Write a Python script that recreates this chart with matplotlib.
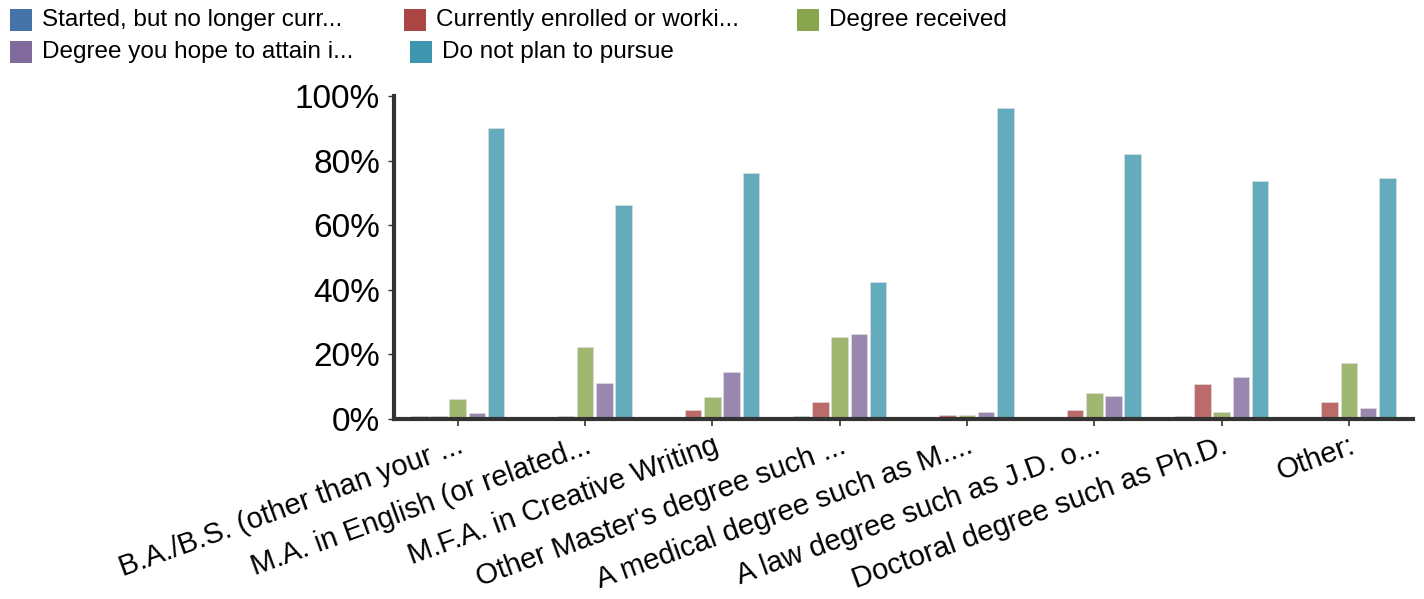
import numpy as np
import matplotlib
matplotlib.use("Agg")
import matplotlib.pyplot as plt
from matplotlib.patches import Rectangle

plt.rcParams['font.family'] = ['Liberation Sans', 'DejaVu Sans']

categories = ["B.A./B.S. (other than your ...", "M.A. in English (or related...",
              "M.F.A. in Creative Writing", "Other Master's degree such ...",
              "A medical degree such as M....", "A law degree such as J.D. o...",
              "Doctoral degree such as Ph.D.", "Other:"]
series_names = ["Started, but no longer curr...", "Currently enrolled or worki...",
                "Degree received", "Degree you hope to attain i...", "Do not plan to pursue"]
started = [1.0, 0.0, 0.0, 1.0, 0.0, 0.0, 1.0, 0.0]
enrolled = [1.0, 1.0, 2.9, 5.3, 1.3, 2.9, 10.9, 5.3]
received = [6.2, 22.3, 6.9, 25.4, 1.3, 8.0, 2.1, 17.3]
hope = [2.0, 11.1, 14.5, 26.3, 2.1, 7.1, 13.1, 3.4]
no_plan = [90.0, 66.2, 76.2, 42.4, 96.3, 82.0, 73.7, 74.6]
colors = ["#4572A7", "#AA4643", "#89A54E", "#80699B", "#3D96AE"]

fig = plt.figure(figsize=(14.24, 5.99), dpi=100)
ax = fig.add_axes([0.2767, 0.3005, 0.7153, 0.5392])

x = np.arange(len(categories))
pitch = 0.151
width = 0.13
for i, vals in enumerate([started, enrolled, received, hope, no_plan]):
    ax.bar(x + (i - 2) * pitch, vals, width, color=colors[i], alpha=0.8,
           edgecolor="#dddddd", linewidth=0.6, zorder=2)

ax.set_xlim(-0.5, 7.5)
ax.set_ylim(0, 100)
ax.set_yticks([0, 20, 40, 60, 80, 100])
ax.set_yticklabels(["0%", "20%", "40%", "60%", "80%", "100%"], fontsize=24)
ax.set_xticks(x)
ax.set_xticklabels(categories, rotation=20, ha="right", rotation_mode="anchor", fontsize=21)
ax.tick_params(axis="x", length=5, width=1.2, color="#333333", pad=4)
ax.tick_params(axis="y", length=4, width=1.0, color="#333333", pad=6)
for s in ["top", "right"]:
    ax.spines[s].set_visible(False)
for s in ["left", "bottom"]:
    ax.spines[s].set_color("#333333")
    ax.spines[s].set_linewidth(3)

# legend drawn by hand to follow the original placement
W, H = 1424, 599
legend_pos = [(10, 20), (404, 20), (797, 20), (10, 52), (410, 52)]
for (px, py), name, c in zip(legend_pos, series_names, colors):
    fig.patches.append(Rectangle((px / W, 1 - (py + 11) / H), 22 / W, 22 / H,
                                 transform=fig.transFigure, facecolor=c, edgecolor="none"))
    fig.text((px + 32) / W, 1 - py / H, name, fontsize=17.5, va="center", ha="left")

fig.savefig("out.png", dpi=100)
